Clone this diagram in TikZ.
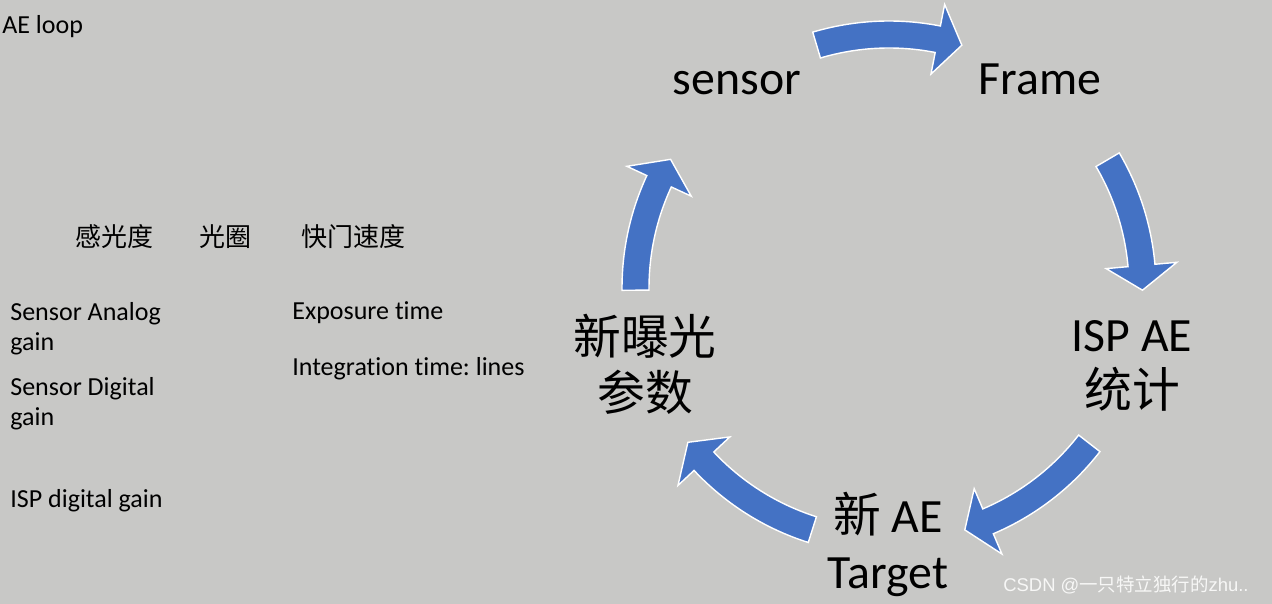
\documentclass[tikz,border=0pt]{standalone}
\usepackage{fontspec}
\setmainfont{Carlito}[Ligatures = NoCommon]
\newfontfamily\cjk{Noto Sans CJK SC}
\newfontfamily\markfont{Liberation Sans}
\frenchspacing

\definecolor{slidegray}{RGB}{200,200,198}
\definecolor{cycleblue}{RGB}{68,114,196}

\tikzset{
	big/.style = {font = \fontsize{27.2}{32}\selectfont, inner sep = 0pt, align = center, anchor = base},
	small/.style = {font = \fontsize{14.8}{17.5}\selectfont, inner sep = 0pt, align = left, anchor = base west}
}

\begin{document}
\begin{tikzpicture}[x = 0.02cm, y = 0.02cm]

	% Slide background
	
	\fill [slidegray] (0, 0) rectangle (1272, 604);
	
	% Cycle arrows, given as tail angle / tip angle
	
	\begin{scope}[shift = {(889, 316)}]
	\foreach \ta/\tb in {106.6/73.3, 30.4/-0.5, -37.8/-72.6, -107.6/-142.5, 180.5/149.5}
		\filldraw [fill = cycleblue, draw = white, line width = 0.8pt]
			(\ta:267) arc [start angle = \ta, end angle = \tb + 5.6, radius = 267]
			-- ({\tb + 5.6}:289) -- (\tb:253.5) -- ({\tb + 5.6}:218) -- ({\tb + 5.6}:240)
			arc [start angle = \tb + 5.6, end angle = \ta, radius = 240] -- cycle;
	\end{scope}
	
	% Labels on the left
	
	\node [small] (title) at (2, 570) {AE loop};
	\node [small] (iso) at (75, 357) {\cjk 感光度};
	\node [small] (aperture) at (199, 357) {\cjk 光圈};
	\node [small] (shutter) at (301, 357) {\cjk 快门速度};
	\node [small] (again) at (10, 253) {Sensor Analog\\gain};
	\node [small] (dgain) at (10, 178) {Sensor Digital\\gain};
	\node [small] (ispgain) at (10, 96) {ISP digital gain};
	\node [small] (exptime) at (292, 284) {Exposure time};
	\node [small] (inttime) at (292, 228) {Integration time: lines};
	
	% Steps of the loop
	
	\node [big] (sensor) at (737, 509) {sensor};
	\node [big] (frame) at (1040, 509) {Frame};
	\node [big] (stats) at (1132, 196) {ISP AE\\{\cjk 统计}};
	\node [big] (target) at (888, 15) {{\cjk 新} AE\\Target};
	\node [big] (params) at (645, 193) {{\cjk 新曝光}\\{\cjk 参数}};
	
	% Watermark
	
	\node [anchor = base west, inner sep = 0pt, text = white!85!slidegray, font = \markfont\fontsize{10.5}{12}\selectfont] (mark) at (1003, 12) {CSDN @{\cjk 一只特立独行的}zhu..};
	
\end{tikzpicture}
\end{document}
